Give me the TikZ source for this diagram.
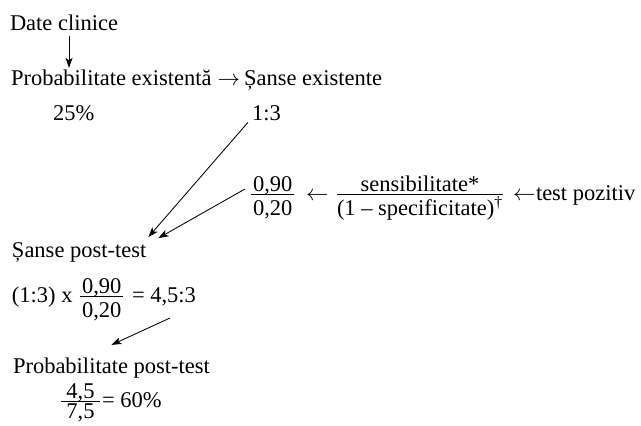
\RequirePackage{fix-cm}
\documentclass[tikz,border=0pt]{standalone}
\usepackage{fontspec}
\setmainfont{Liberation Serif}
\usetikzlibrary{arrows.meta,calc}
\newlength{\frstrut}
\setlength{\frstrut}{21pt}
\newcommand{\fr}[3][2pt]{{\nulldelimiterspace=0pt$\frac{\raisebox{0pt}[\height][0pt]{\hspace{#1}#2\hspace{#1}}}{\mbox{\rule{0pt}{\frstrut}#3}}$}}
\tikzset{
  txt/.style={inner sep=0pt, outer sep=0pt, anchor=base west, font=\fontsize{22.5}{27}\selectfont},
  arr/.style={-{Stealth[length=10pt,width=7pt,inset=2.5pt]}, line width=0.85pt},
}
\begin{document}
\begin{tikzpicture}[x=1pt,y=-1pt]
\useasboundingbox (0,0) rectangle (641,426);
\node[txt] (d) at (10,30) {Date clinice};
\node[txt] (pe) at (11,85) {Probabilitate existentă};
\node[txt] (ra) at (217.5,85) {$\rightarrow$};
\node[txt] (se) at (244,85) {Șanse existente};
\node[txt] (p25) at (53,120) {25\%};
\node[txt] (r13) at (252,120) {1:3};
\node[txt] (f1) at (251,200) {\fr{0,90}{0,20}};
\node[txt] (la1) at (306,200) {$\leftarrow$};
\node[txt] (f2) at (337,200) {\fr[1pt]{sensibilitate*}{(1 – specificitate)\textsuperscript{†}}};
\node[txt] (la2) at (513,200) {$\leftarrow$};
\node[txt] (tp) at (536,200) {test pozitiv};
\node[txt] (sp) at (12,257) {Șanse post-test};
\node[txt] (lhs) at (12,302) {(1:3) x};
\node[txt] (f3) at (80,302) {\fr{0,90}{0,20}};
\node[txt] (eq) at (132,302) {= 4,5:3};
\node[txt] (ppt) at (13,373) {Probabilitate post-test};
\node[txt] (f4) at (61,407) {\setlength{\frstrut}{17pt}\fr[5.5pt]{4,5}{7,5}};
\node[txt] (eq2) at (102,407) {= 60\%};
\draw[arr] ($(d.south)+(5pt,-6pt)$) -- ($(d.south |- pe.north)+(5pt,1.5pt)$);
\draw[arr] ($(r13.south west)+(-4pt,-2pt)$) -- ($(sp.north east)+(2pt,5pt)$);
\draw[arr] ($(f1.base west)+(-6pt,11pt)$) -- ($(sp.north east)+(12pt,4pt)$);
\draw[arr] ($(eq.base west)+(38pt,-16pt)$) -- ($(ppt.north)+(0pt,12.5pt)$);
\end{tikzpicture}
\end{document}
